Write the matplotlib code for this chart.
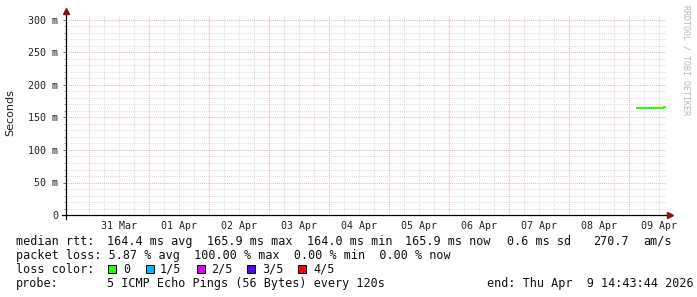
import matplotlib
matplotlib.use("Agg")
import matplotlib.pyplot as plt
import matplotlib.dates as mdates
from matplotlib.patches import Rectangle
from datetime import datetime, timedelta

# ---------------- data ----------------
end_time = datetime(2026, 4, 9, 14, 43, 44)
span_days = 10
data_start = datetime(2026, 4, 9, 2, 48)
step_minutes = 24
median_rtt_ms = [164.2, 164.1, 164.3, 164.2, 164.0, 164.1, 164.3, 164.2, 164.4, 164.2,
                 164.1, 164.3, 164.5, 164.2, 164.3, 164.1, 164.2, 164.4, 164.3, 164.2,
                 164.5, 164.4, 164.3, 164.6, 165.2, 165.0, 164.8, 165.4, 165.6, 165.9]
loss_count = [0, 0, 0, 0, 0, 0, 0, 0, 0, 0,
              0, 0, 0, 1, 0, 0, 0, 0, 0, 0,
              0, 0, 0, 0, 0, 0, 0, 0, 0, 0]
loss_labels = ["0", "1/5", "2/5", "3/5", "4/5"]
loss_colors = ["#26ff00", "#00b8ff", "#dd00ff", "#5500ff", "#ff0000"]
y_ticks = [0, 50, 100, 150, 200, 250, 300]
y_tick_labels = ["0", "50 m", "100 m", "150 m", "200 m", "250 m", "300 m"]

line1 = [(16, "median rtt:"), (107, "164.4 ms avg"), (207, "165.9 ms max"),
         (307, "164.0 ms min"), (405, "165.9 ms now"), (507, "0.6 ms sd"),
         (593, "270.7"), (643, "am/s")]
line2 = [(16, "packet loss: 5.87 % avg  100.00 % max  0.00 % min  0.00 % now")]
line4 = [(16, "probe:"), (107, "5 ICMP Echo Pings (56 Bytes) every 120s"),
         (487, "end: Thu Apr  9 14:43:44 2026")]

# ---------------- figure ----------------
W, H = 697, 297
fig = plt.figure(figsize=(W / 100, H / 100), dpi=100)
fig.patch.set_facecolor("white")
ax = fig.add_axes([66 / W, 82 / H, 600 / W, 200 / H])
ax.set_facecolor("white")

start_time = end_time - timedelta(days=span_days)
ax.set_xlim(mdates.date2num(start_time), mdates.date2num(end_time))
ax.set_ylim(0, 300 * 200 / 195)

for s in ax.spines.values():
    s.set_visible(False)

# grid: minor every 10 m (gray) / major 50 m (red)
minor_col = "#dedede"
major_col = "#f0b4b4"
dot = (0, (1, 1))
for v in range(10, 310, 10):
    if v % 50 == 0:
        continue
    ax.axhline(v, color=minor_col, lw=0.75, ls=dot, zorder=1)
for v in y_ticks[1:]:
    ax.axhline(v, color=major_col, lw=0.75, ls=dot, zorder=1.5)

# vertical grid: 6 h minor, midnight major
t = datetime(2026, 3, 31, 0, 0)
while t <= end_time:
    if t > start_time:
        col = major_col if t.hour == 0 else minor_col
        ax.axvline(mdates.date2num(t), color=col, lw=0.75, ls=dot,
                   zorder=1.5 if t.hour == 0 else 1)
    t += timedelta(hours=6)

# x tick labels at noon
noons = []
labels = []
t = datetime(2026, 3, 31, 12, 0)
while t < end_time:
    noons.append(mdates.date2num(t))
    labels.append(t.strftime("%d %b"))
    t += timedelta(days=1)
ax.set_xticks(noons)
ax.set_xticklabels(labels, family="DejaVu Sans Mono", fontsize=7.2, color="#222222")
ax.tick_params(axis="x", length=0, pad=4.2)

ax.set_yticks(y_ticks)
ax.set_yticklabels(y_tick_labels, family="DejaVu Sans Mono", fontsize=7.2, color="#222222")
ax.set_yticks(list(range(10, 310, 10)), minor=True)
ax.tick_params(axis="y", which="major", length=2.2, width=0.7, color="#666666", pad=3.4)
ax.tick_params(axis="y", which="minor", length=1.5, width=0.7, color="#999999")

# data line (steps coloured by loss)
times = [data_start + timedelta(minutes=step_minutes * i) for i in range(len(median_rtt_ms))]
for i, (tm, v) in enumerate(zip(times, median_rtt_ms)):
    t0 = mdates.date2num(tm)
    t1 = mdates.date2num(times[i + 1]) if i + 1 < len(times) else mdates.date2num(end_time)
    nxt = median_rtt_ms[i + 1] if i + 1 < len(median_rtt_ms) else v
    c = loss_colors[loss_count[i]]
    ax.plot([t0, t1, t1], [v, v, nxt], color=c, lw=1.45, solid_capstyle="butt",
            solid_joinstyle="miter", zorder=3)

# axes with arrows
arrow_col = "#8b1010"
ax.plot([-4 / 600, 603 / 600], [0, 0], transform=ax.transAxes, color="black", lw=0.9,
        clip_on=False, zorder=4)
ax.plot([0, 0], [-4 / 200, 203 / 200], transform=ax.transAxes, color="black", lw=0.9,
        clip_on=False, zorder=4)
ax.plot([604 / 600], [0], transform=ax.transAxes, marker=">", ms=4, color=arrow_col,
        mec=arrow_col, clip_on=False, zorder=5)
ax.plot([0], [204 / 200], transform=ax.transAxes, marker="^", ms=4, color=arrow_col,
        mec=arrow_col, clip_on=False, zorder=5)

# y label
fig.text(10 / W, 1 - 113 / H, "Seconds", rotation=90, ha="center", va="center",
         family="DejaVu Sans", fontsize=8, color="#222222")

# watermark
fig.text(686 / W, 1 - 60 / H, "RRDTOOL / TOBI OETIKER", rotation=270, ha="center",
         va="center", family="DejaVu Sans Mono", fontsize=6, color="#b8b8b8")

# legend text
mono = dict(family="DejaVu Sans Mono", fontsize=8.5, color="#111111", va="center", ha="left")
for y, items in ((241.5, line1), (255.5, line2), (283.3, line4)):
    for x, s in items:
        fig.text(x / W, 1 - y / H, s, **mono)

y3 = 269.3
fig.text(16 / W, 1 - y3 / H, "loss color:", **mono)
box_x = [108, 146, 197, 247, 298]
txt_x = [123, 160, 211, 262, 313]
for bx, tx, lab, col in zip(box_x, txt_x, loss_labels, loss_colors):
    fig.patches.append(Rectangle((bx / W, 1 - (y3 + 4) / H), 8 / W, 8 / H,
                                 transform=fig.transFigure, facecolor=col,
                                 edgecolor="black", lw=0.7))
    fig.text(tx / W, 1 - y3 / H, lab, **mono)

fig.savefig("out.png", dpi=100, facecolor="white")
